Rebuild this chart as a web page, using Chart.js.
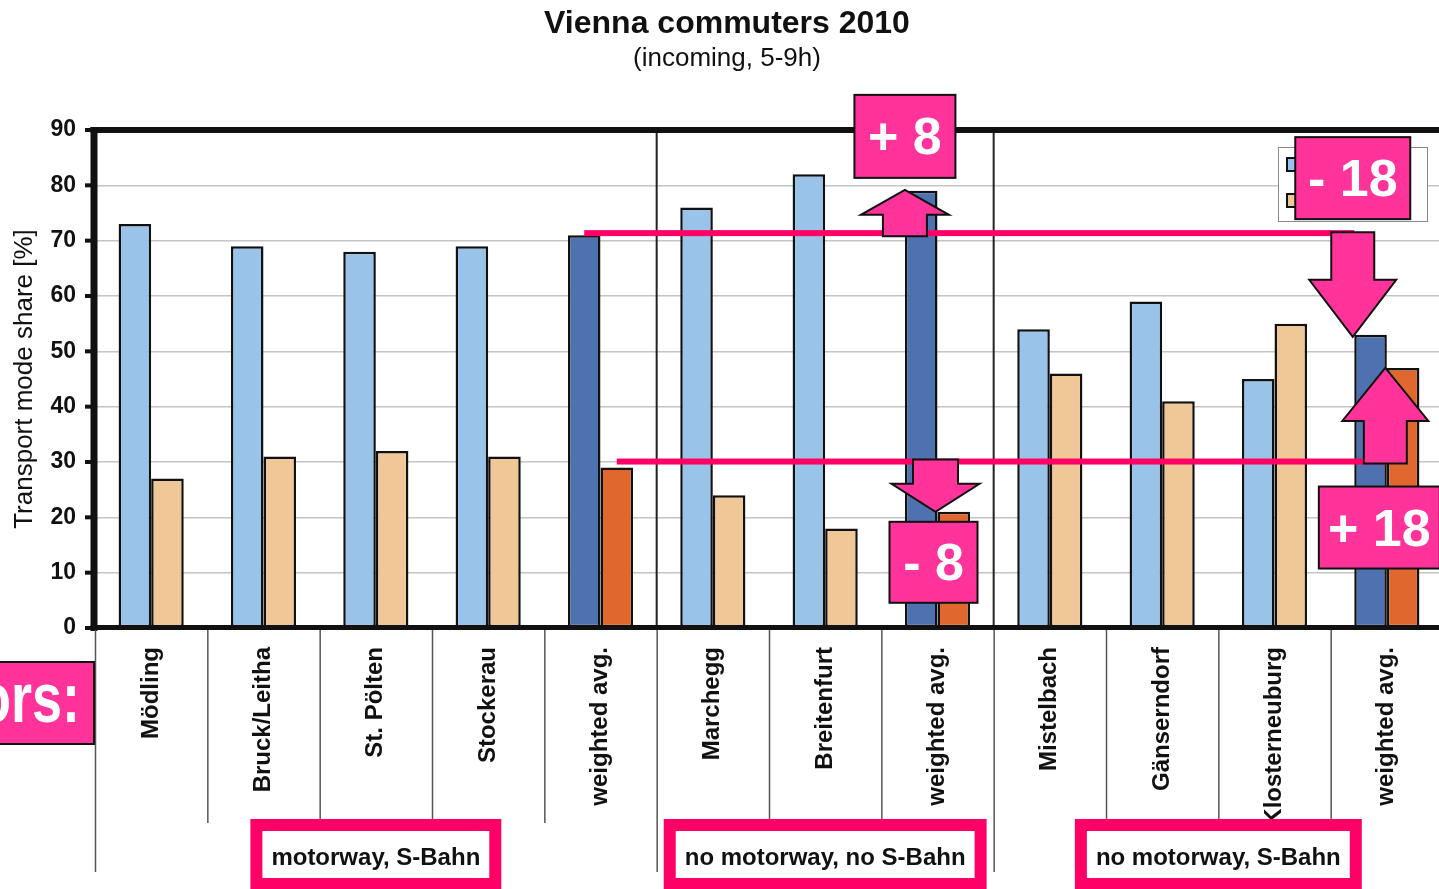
<!DOCTYPE html>
<html><head><meta charset="utf-8">
<script src="https://cdn.jsdelivr.net/npm/chart.js@4/dist/chart.umd.min.js"></script>
<style>html,body{margin:0;padding:0;overflow:hidden;background:#fff}canvas{display:block}</style>
</head><body>
<canvas id="c" width="1443" height="889"></canvas>
<script>
// ---------- data ----------
const categories = ['Mödling','Bruck/Leitha','St. Pölten','Stockerau','weighted avg.','Marchegg','Breitenfurt','weighted avg.','Mistelbach','Gänserndorf','Klosterneuburg','weighted avg.'];
const carShare = [73,69,68,69,71,76,82,79,54,59,45,53];
const ptShare  = [27,31,32,31,29,24,18,21,46,41,55,47];
const seriesNames = ['Car usage','PT usage'];
const yTicks = [0,10,20,30,40,50,60,70,80,90];
const groupNames = ['motorway, S-Bahn','no motorway, no S-Bahn','no motorway, S-Bahn'];
const groupSizes = [5,3,4];
const avgIndex = [4,7,11];
const titleText = 'Vienna commuters 2010';
const subtitleText = '(incoming, 5-9h)';
const yTitle = 'Transport mode share [%]';
const sideLabel = 'ors:';

// ---------- styles ----------
const FONT = '"Liberation Sans", Arial, Helvetica, sans-serif';
const LIGHT_BLUE='#99c3e8', TAN='#f0c898', DARK_BLUE='#4e71b0', ORANGE='#e0682e';
const PINK='#ff3399', PINK_LINE='#ff0066', INK='#111';
const blueColors = categories.map((c,i)=> avgIndex.includes(i)?DARK_BLUE:LIGHT_BLUE);
const tanColors  = categories.map((c,i)=> avgIndex.includes(i)?ORANGE:TAN);

const fmt = d => (d>0?'+ ':'- ')+Math.abs(d);

function arrow(ctx, cx, yTail, yTip, headLen, headHalf, shaftHalf){
  const dir = yTip < yTail ? 1 : -1;
  const yb = yTip + dir*headLen;
  ctx.beginPath();
  ctx.moveTo(cx-shaftHalf, yTail);
  ctx.lineTo(cx-shaftHalf, yb);
  ctx.lineTo(cx-headHalf, yb);
  ctx.lineTo(cx, yTip);
  ctx.lineTo(cx+headHalf, yb);
  ctx.lineTo(cx+shaftHalf, yb);
  ctx.lineTo(cx+shaftHalf, yTail);
  ctx.closePath();
  ctx.fillStyle=PINK; ctx.fill();
  ctx.lineWidth=2; ctx.strokeStyle=INK; ctx.lineJoin='miter'; ctx.stroke();
}
function pinkBox(ctx, x, y, w, h, text){
  ctx.fillStyle=PINK; ctx.fillRect(x,y,w,h);
  ctx.lineWidth=2; ctx.strokeStyle=INK; ctx.strokeRect(x,y,w,h);
  ctx.fillStyle='#fff'; ctx.font='bold 52px '+FONT;
  ctx.textAlign='center'; ctx.textBaseline='alphabetic';
  ctx.fillText(text, x+w/2, y+h/2+18);
}

const overlay = {
  id:'overlay',
  beforeDatasetsDraw(chart){
    const {ctx, chartArea:a, scales:{x}} = chart;
    const catW = x.getPixelForValue(1)-x.getPixelForValue(0);
    ctx.save();
    ctx.strokeStyle='#222'; ctx.lineWidth=2;
    let acc=0;
    groupSizes.slice(0,-1).forEach(s=>{
      acc+=s;
      const gx = x.getPixelForValue(acc)-catW/2;
      ctx.beginPath(); ctx.moveTo(gx,a.top); ctx.lineTo(gx,a.bottom); ctx.stroke();
    });
    ctx.restore();
  },
  afterDatasetsDraw(chart){
    const {ctx, chartArea:a, scales:{x,y}} = chart;
    const catW = x.getPixelForValue(1)-x.getPixelForValue(0);
    const b0 = chart.getDatasetMeta(0).data, b1 = chart.getDatasetMeta(1).data;
    ctx.save();
    // axis frame
    ctx.fillStyle=INK;
    ctx.fillRect(a.left-4.5, a.top-3, a.right-a.left+10, 6);
    ctx.fillRect(a.left-4.5, a.top-3, 7, a.bottom-a.top+6);
    ctx.fillRect(a.left-4.5, a.bottom-3, a.right-a.left+10, 5);
    yTicks.forEach(v=>{ const py=y.getPixelForValue(v); ctx.fillRect(a.left-10, py-2, 7, 4); });

    // dividers below axis
    const groupBounds=[0]; let acc=0; groupSizes.forEach(s=>{acc+=s; groupBounds.push(acc);});
    ctx.strokeStyle='#555'; ctx.lineWidth=1.5;
    for(let i=0;i<categories.length;i++){
      const bx = x.getPixelForValue(i)-catW/2+0.5;
      const end = groupBounds.includes(i)? 872 : 823;
      ctx.beginPath(); ctx.moveTo(bx,a.bottom+2); ctx.lineTo(bx,end); ctx.stroke();
    }

    // legend
    const lx=1278, ly=147;
    ctx.fillStyle='#fff'; ctx.fillRect(lx,ly,149,74);
    ctx.strokeStyle='#888'; ctx.lineWidth=1; ctx.strokeRect(lx+0.5,ly+0.5,149,74);
    [[LIGHT_BLUE,seriesNames[0]],[TAN,seriesNames[1]]].forEach((it,k)=>{
      const sy = ly+11+k*36;
      ctx.fillStyle=it[0]; ctx.fillRect(lx+9,sy,12,13);
      ctx.strokeStyle=INK; ctx.lineWidth=2; ctx.strokeRect(lx+9,sy,12,13);
      ctx.fillStyle=INK; ctx.font='bold 20px '+FONT; ctx.textAlign='left'; ctx.textBaseline='middle';
      ctx.fillText(it[1], lx+26, sy+7);
    });

    // comparison lines from the first weighted average
    const i0=avgIndex[0], i1=avgIndex[1], i2=avgIndex[2];
    const topY = y.getPixelForValue(carShare[i0])-2;
    const lowY = y.getPixelForValue(ptShare[i0])-6;
    const e = k => ({l:b0[k].x-b0[k].width/2, m:b0[k].x+b0[k].width/2});
    const A1 = e(i1), A2 = e(i2);
    ctx.fillStyle=PINK_LINE;
    ctx.fillRect(b0[i0].x, topY-3, A2.l - b0[i0].x, 6);
    ctx.fillRect(b1[i0].x, lowY-3, A2.m - b1[i0].x, 6);

    // arrows
    const tip1 = y.getPixelForValue(carShare[i1])-1;
    arrow(ctx, A1.l, topY+3, tip1, 25, 44, 22);
    const tip2 = y.getPixelForValue(ptShare[i1]);
    arrow(ctx, A1.m-2, lowY-2, tip2, 28, 44, 22.5);
    const tip3 = y.getPixelForValue(carShare[i2])+2;
    arrow(ctx, A2.l-1.5, topY-1, tip3, 57, 43.5, 21.5);
    const tip4 = y.getPixelForValue(ptShare[i2]);
    arrow(ctx, A2.m-1.5, lowY+2, tip4, 53, 43, 21.5);

    // value boxes
    pinkBox(ctx, A1.l-50.5, tip1-12-83, 101, 83, fmt(carShare[i1]-carShare[i0]));
    pinkBox(ctx, A1.m-2-46, tip2+10, 88, 81, fmt(ptShare[i1]-ptShare[i0]));
    pinkBox(ctx, A2.l-1.5-57.5, topY-1-13-82, 115, 82, fmt(carShare[i2]-carShare[i0]));
    pinkBox(ctx, A2.m-68, lowY+2+23, 121, 82, fmt(ptShare[i2]-ptShare[i0]));

    // side label box
    ctx.fillStyle=PINK; ctx.fillRect(-2,662,96,82);
    ctx.strokeStyle=INK; ctx.lineWidth=2; ctx.strokeRect(-2,662,96,82);
    ctx.save();
    ctx.translate(80,722); ctx.scale(1,1.3);
    ctx.fillStyle='#fff'; ctx.font='bold 54px '+FONT; ctx.textAlign='right'; ctx.textBaseline='alphabetic';
    ctx.fillText(sideLabel,0,0);
    ctx.restore();

    // group label boxes
    let start=0;
    groupSizes.forEach((s,g)=>{
      const cx = (x.getPixelForValue(start)+x.getPixelForValue(start+s-1))/2;
      ctx.font='bold 24px '+FONT;
      const tw = ctx.measureText(groupNames[g]).width;
      const w = tw+42, bx = cx-w/2, by=819, h=70;
      ctx.fillStyle=PINK_LINE; ctx.fillRect(bx,by,w,h);
      ctx.fillStyle='#fff'; ctx.fillRect(bx+12,by+12,w-24,h-23);
      ctx.fillStyle=INK; ctx.textAlign='center'; ctx.textBaseline='alphabetic';
      ctx.fillText(groupNames[g], cx, 865);
      start+=s;
    });
    ctx.restore();
  },
  afterDraw(chart){
    const {ctx}=chart;
    ctx.save();
    ctx.fillStyle=INK; ctx.textAlign='center'; ctx.textBaseline='alphabetic';
    ctx.font='bold 32px '+FONT; ctx.fillText(titleText, 727, 33);
    ctx.font='26px '+FONT; ctx.fillText(subtitleText, 727, 66);
    ctx.restore();
  }
};

new Chart(document.getElementById('c'), {
  type:'bar',
  data:{
    labels:categories,
    datasets:[
      {label:seriesNames[0], data:carShare, backgroundColor:blueColors, borderColor:INK, borderWidth:2.5, borderSkipped:false},
      {label:seriesNames[1], data:ptShare, backgroundColor:tanColors, borderColor:INK, borderWidth:2.5, borderSkipped:false}
    ]
  },
  options:{
    responsive:false, animation:false, devicePixelRatio:1,
    layout:{padding:{left:0,right:0,top:130,bottom:0}},
    datasets:{bar:{categoryPercentage:0.58, barPercentage:1.0}},
    plugins:{legend:{display:false}, title:{display:false}, tooltip:{enabled:false}},
    scales:{
      x:{
        grid:{display:false, drawTicks:false}, border:{display:false},
        ticks:{autoSkip:false, maxRotation:90, minRotation:90, padding:19, color:INK, font:{family:FONT, weight:'bold', size:24}},
        afterFit(s){ s.height = 261; }
      },
      y:{
        min:0, max:90,
        grid:{color:'#c4c4c4', lineWidth:1.5, drawTicks:false}, border:{display:false},
        ticks:{stepSize:10, padding:19, color:INK, font:{family:FONT, weight:'bold', size:23}},
        title:{display:true, text:yTitle, color:INK, font:{family:FONT, size:26}, padding:{top:9,bottom:0}},
        afterFit(s){ s.width = 95; }
      }
    }
  },
  plugins:[overlay]
});
</script>
</body></html>
